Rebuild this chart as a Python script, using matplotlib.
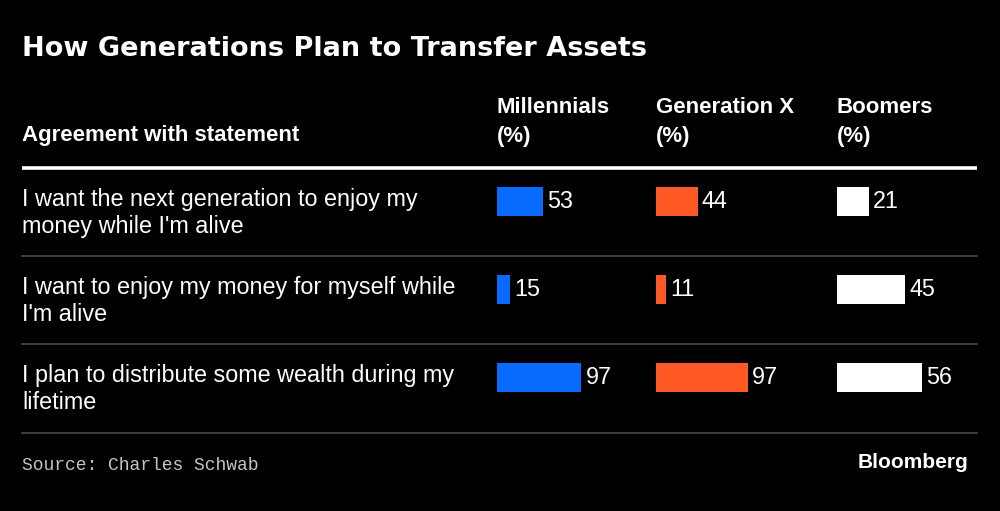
import matplotlib.pyplot as plt

statements = [
    "I want the next generation to enjoy my\nmoney while I'm alive",
    "I want to enjoy my money for myself while\nI'm alive",
    "I plan to distribute some wealth during my\nlifetime",
]
generations = ["Millennials\n(%)", "Generation X\n(%)", "Boomers\n(%)"]
millennials = [53, 15, 97]
gen_x = [44, 11, 97]
boomers = [21, 45, 56]

colors = ["#0a6cff", "#ff5a26", "#ffffff"]
col_left = [497, 656, 837]        # pixel x of each bar column
col_scale = [0.87, 0.95, 1.52]    # px per percentage point (each column scaled alone)

W, H = 1000, 511
fig = plt.figure(figsize=(W / 100, H / 100), dpi=100, facecolor="black")

# layout axis in pixel units
base = fig.add_axes([0, 0, 1, 1])
base.set_xlim(0, W)
base.set_ylim(H, 0)
base.axis("off")
base.set_facecolor("black")

sans = ["Liberation Sans", "DejaVu Sans"]

base.text(22, 49, "How Generations Plan to Transfer Assets", color="white",
          fontsize=19.5, fontweight="bold", family=["DejaVu Sans"], va="center")
base.text(22, 135, "Agreement with statement", color="white", fontsize=16,
          fontweight="bold", family=sans, va="center")
for x, g in zip(col_left, generations):
    base.text(x, 122, g, color="white", fontsize=16, fontweight="bold",
              family=sans, va="center", linespacing=1.5)

# row geometry
top, bottom = 168, 433
row_h = 88.0
offset = 33.7  # bar centre below the row's top line

base.plot([22, 977], [top, top], color="white", lw=2.6, solid_capstyle="butt")
for i in range(1, len(statements) + 1):
    y = top + row_h * i if i < len(statements) else bottom
    base.plot([22, 977], [y, y], color="#4a4a4a", lw=1.2)

for i, s in enumerate(statements):
    base.text(22, top + row_h * i + offset + 11, s, color="white", fontsize=16.8,
              family=sans, va="center", linespacing=1.22)

base.text(22, 465, "Source: Charles Schwab", color="#c4c4c4", fontsize=13,
          family=["Liberation Mono", "DejaVu Sans Mono"], va="center")
base.text(968, 462, "Bloomberg", color="white", fontsize=15, fontweight="bold",
          family=sans, va="center", ha="right")

# bar columns
ax_w = 150
for x0, scale, vals, c in zip(col_left, col_scale, [millennials, gen_x, boomers], colors):
    ax = fig.add_axes([x0 / W, 1 - bottom / H, ax_w / W, (bottom - top) / H])
    ax.set_xlim(0, ax_w / scale)
    ax.set_ylim((bottom - top - offset) / row_h, -offset / row_h)
    ax.axis("off")
    ax.patch.set_alpha(0)
    ys = list(range(len(vals)))
    ax.barh(ys, vals, height=0.33, color=c)
    for y, v in zip(ys, vals):
        ax.annotate(str(v), (v, y), xytext=(3, 0), textcoords="offset points",
                    color="white", fontsize=16.8, family=sans, va="center")

fig.savefig("out.png", dpi=100, facecolor="black")
